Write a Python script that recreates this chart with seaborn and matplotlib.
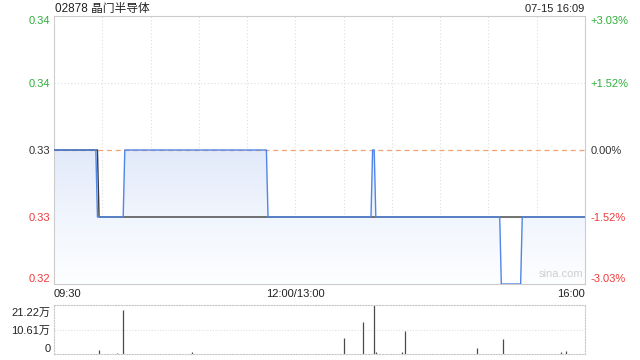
import numpy as np
import pandas as pd
import matplotlib
matplotlib.use("Agg")
import matplotlib.pyplot as plt
import matplotlib.colors as mcolors
import seaborn as sns

# ---------------- data ----------------
title = "02878 晶门半导体"
stamp = "07-15 16:09"
prev_close = 0.33

# price path: minute index since 09:30 (lunch break removed) -> price
price_minutes = [0, 26, 27, 43, 44, 132, 133, 197, 198, 199, 200, 277, 278, 290, 291, 330]
price_values = [0.33, 0.33, 0.325, 0.325, 0.33, 0.33, 0.325, 0.325, 0.33, 0.33, 0.325,
                0.325, 0.32, 0.32, 0.325, 0.325]

# average price line
avg_minutes = [0, 27, 28, 330]
avg_values = [0.33, 0.33, 0.325, 0.325]

# volume (万股) at minute index
vol_minutes = [28, 39, 43, 86, 180, 192, 199, 200, 216, 218, 263, 279, 315, 318]
vol_values = [1.7, 0.4, 19.1, 0.8, 7.1, 14.0, 21.22, 0.8, 0.7, 10.1, 2.7, 6.6, 1.0, 1.4]

price_levels = [0.32, 0.325, 0.33, 0.335, 0.34]
price_labels = ["0.32", "0.33", "0.33", "0.34", "0.34"]
pct_labels = ["-3.03%", "-1.52%", "0.00%", "+1.52%", "+3.03%"]
level_colors = ["#f03a3a", "#f03a3a", "#333333", "#2fae3a", "#2fae3a"]

vol_levels = [0, 10.61, 21.22]
vol_labels = ["0", "10.61万", "21.22万"]

time_ticks = [0, 150, 330]
time_labels = ["09:30", "12:00/13:00", "16:00"]
grid_minutes = list(range(30, 330, 30))
total_minutes = 330

# ---------------- style ----------------
sns.set_style("white")
plt.rcParams["font.family"] = ["Liberation Sans", "Noto Sans CJK SC", "DejaVu Sans"]
plt.rcParams["font.size"] = 8

fig = plt.figure(figsize=(6.4, 3.6), dpi=100)
W, H = 640, 360
L, R = 54, 585
ax = fig.add_axes([L / W, 1 - 284 / H, (R - L) / W, (284 - 16) / H])
axv = fig.add_axes([L / W, 1 - 354 / H, (R - L) / W, (354 - 305) / H])

line_color = "#4f86e8"
frame_color = "#cccccc"
grid_color = "#dedede"

# ---------------- price chart ----------------
df_price = pd.DataFrame({"minute": price_minutes, "price": price_values})
df_avg = pd.DataFrame({"minute": avg_minutes, "price": avg_values})

ax.set_xlim(0, total_minutes)
ax.set_ylim(price_levels[0], price_levels[-1])

# gradient fill under the price line
poly = ax.fill_between(df_price["minute"], df_price["price"], price_levels[0],
                       facecolor="none", edgecolor="none")
cmap = mcolors.LinearSegmentedColormap.from_list("g", ["#fdfeff", "#f1f5fd", "#e2eafa"])
grad = np.linspace(0, 1, 256).reshape(-1, 1)
im = ax.imshow(grad, cmap=cmap, aspect="auto", origin="lower",
               extent=[0, total_minutes, price_levels[0], max(price_values)],
               zorder=1)
im.set_clip_path(poly.get_paths()[0], transform=ax.transData)

# grid
for m in grid_minutes:
    ax.axvline(m, color=grid_color, lw=0.8, ls=(0, (1, 2)), zorder=0.5)
for lv in price_levels[1:-1]:
    if lv != prev_close:
        ax.axhline(lv, color=grid_color, lw=0.8, ls=(0, (1, 2)), zorder=0.5)
ax.axhline(prev_close, color="#f2a272", lw=0.9, ls=(0, (4, 3)), zorder=2)

sns.lineplot(data=df_avg, x="minute", y="price", ax=ax, color="#3a3a3a",
             lw=1.0, zorder=3, estimator=None, sort=False)
sns.lineplot(data=df_price, x="minute", y="price", ax=ax, color=line_color,
             lw=1.0, zorder=4, estimator=None, sort=False)

ax.set_xlabel("")
ax.set_ylabel("")
for s in ax.spines.values():
    s.set_visible(True)
    s.set_color(frame_color)
    s.set_linewidth(0.8)

ax.set_yticks(price_levels)
ax.set_yticklabels(price_labels)
ax.tick_params(axis="y", length=0, pad=2.5, labelsize=8)
for t, c in zip(ax.get_yticklabels(), level_colors):
    t.set_color(c)
ylabs = ax.get_yticklabels()
ylabs[0].set_va("bottom")
ylabs[-1].set_va("top")

ax2 = ax.twinx()
ax2.set_ylim(ax.get_ylim())
ax2.set_yticks(price_levels)
ax2.set_yticklabels(pct_labels)
ax2.tick_params(axis="y", length=0, pad=4, labelsize=8)
for t, c in zip(ax2.get_yticklabels(), level_colors):
    t.set_color(c)
rlabs = ax2.get_yticklabels()
rlabs[0].set_va("bottom")
rlabs[-1].set_va("top")
for s in ax2.spines.values():
    s.set_visible(False)

ax.set_xticks(time_ticks)
ax.set_xticklabels(time_labels)
ax.tick_params(axis="x", length=0, pad=3.5, labelsize=8, labelcolor="#222222")
xl = ax.get_xticklabels()
xl[0].set_ha("left")
xl[-1].set_ha("right")

ax.text(0.955, 0.02, "sina.com", transform=ax.transAxes, ha="center", va="bottom",
        color="#cfcfcf", fontsize=8, zorder=5)

fig.text(55 / W, 1 - 9 / H, title, ha="left", va="center", fontsize=8.5, color="#222222")
fig.text(584 / W, 1 - 9 / H, stamp, ha="right", va="center", fontsize=8, color="#222222")

# ---------------- volume chart ----------------
axv.set_xlim(0, total_minutes)
axv.set_ylim(vol_levels[0], vol_levels[-1])
axv.vlines(vol_minutes, 0, vol_values, color="#4a4a4a", lw=0.9)
axv.axhline(vol_levels[1], color=grid_color, lw=0.8, ls=(0, (1, 1.5)), zorder=0.5)
for s in axv.spines.values():
    s.set_visible(True)
    s.set_color("#c8c8c8")
    s.set_linewidth(0.8)
    s.set_linestyle((0, (1, 1.5)))
axv.set_xticks([])
axv.set_yticks(vol_levels)
axv.set_yticklabels(vol_labels)
axv.tick_params(axis="y", length=0, pad=2.5, labelsize=8, labelcolor="#222222")
vl = axv.get_yticklabels()
vl[0].set_va("bottom")
vl[-1].set_va("top")
vl[-1].set_y(vol_levels[-1])
from matplotlib.transforms import ScaledTranslation
vl[-1].set_transform(vl[-1].get_transform() + ScaledTranslation(0, -2 / 72, fig.dpi_scale_trans))

fig.savefig("out.png", dpi=100)
